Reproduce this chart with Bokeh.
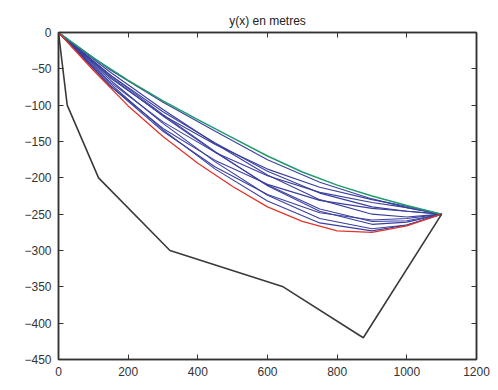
from bokeh.plotting import figure
from bokeh.models import Range1d, LinearAxis, SingleIntervalTicker, CustomJSTickFormatter
from bokeh.embed import file_html
from bokeh.resources import INLINE

# ---- data ----
title_text = "y(x) en metres"

# ground profile (black polyline)
ground_x = [0, 25, 115, 320, 645, 875, 1100]
ground_y = [0, -100, -200, -300, -350, -420, -250]

# upper (green) and lower (red) limit curves
limit_x = [0, 100, 200, 300, 400, 500, 600, 700, 800, 900, 1000, 1100]
green_y = [0, -35, -66, -94, -120, -145, -170, -192, -210, -225, -238, -250]
red_y = [0, -52, -101, -143, -180, -212, -240, -260, -273, -275, -266, -250]

# intermediate (blue) cable shapes
blue_x = [0, 150, 300, 450, 600, 750, 900, 1000, 1100]
blue_1 = [0, -52, -96, -136, -175, -206, -229, -241, -250]
blue_2 = [0, -55, -106, -153, -196, -230, -250, -254, -250]
blue_3 = [0, -61, -115, -165, -210, -243, -260, -259, -250]
blue_4 = [0, -66, -125, -178, -224, -256, -270, -265, -250]
blue_5 = [0, -71, -134, -188, -232, -262, -273, -265, -250]
blue_6 = [0, -74, -132, -176, -209, -231, -242, -246, -250]
blue_7 = [0, -69, -123, -165, -197, -220, -234, -241, -250]
blue_8 = [0, -63, -114, -154, -188, -213, -230, -239, -250]
blue_9 = [0, -74, -136, -185, -223, -248, -258, -256, -250]
blue_10 = [0, -59, -109, -152, -191, -221, -240, -246, -250]
blue_11 = [0, -59, -113, -164, -211, -246, -264, -261, -250]
blue_curves = [blue_1, blue_2, blue_3, blue_4, blue_5, blue_6,
               blue_7, blue_8, blue_9, blue_10, blue_11]

x_ticks_step = 200
y_ticks_step = 50

FONT = "Liberation Sans"

p = figure(width=490, height=382, output_backend="svg", toolbar_location=None,
           x_range=Range1d(0, 1200), y_range=Range1d(-450, 0),
           min_border_left=58, min_border_right=14, min_border_top=32,
           min_border_bottom=23, x_axis_type=None, y_axis_type=None)

p.title.text = title_text
p.title.align = "center"
p.title.text_font = FONT
p.title.text_font_size = "12px"
p.title.text_font_style = "normal"
p.title.text_color = "#222222"
p.title.standoff = 2

p.grid.visible = False
p.outline_line_color = "#333333"
p.outline_line_width = 1.5
p.background_fill_color = "white"
p.border_fill_color = "white"

def make_axis(show_labels, step):
    ax = LinearAxis(ticker=SingleIntervalTicker(interval=step))
    ax.major_tick_in = 5
    ax.major_tick_out = 0
    ax.minor_tick_line_color = None
    ax.axis_line_color = "#333333"
    ax.axis_line_width = 1.5
    ax.major_tick_line_color = "#333333"
    ax.major_label_text_font = FONT
    ax.major_label_text_color = "#333333"
    ax.major_label_text_font_size = "12px"
    ax.major_label_standoff = 3
    if not show_labels:
        ax.formatter = CustomJSTickFormatter(code="return ''")
        ax.major_label_standoff = 0
    return ax

p.add_layout(make_axis(True, x_ticks_step), "below")
p.add_layout(make_axis(True, y_ticks_step), "left")
p.add_layout(make_axis(False, x_ticks_step), "above")
p.add_layout(make_axis(False, y_ticks_step), "right")

for ys in blue_curves:
    p.line(blue_x, ys, line_color="#3a3f9e", line_width=1.1)

p.line(limit_x, green_y, line_color="#1f9a6a", line_width=1.5)
p.line(limit_x, red_y, line_color="#e0352b", line_width=1.3)
p.line(ground_x, ground_y, line_color="#3a3a3a", line_width=1.6)

open("out.html", "w").write(file_html(p, INLINE))
